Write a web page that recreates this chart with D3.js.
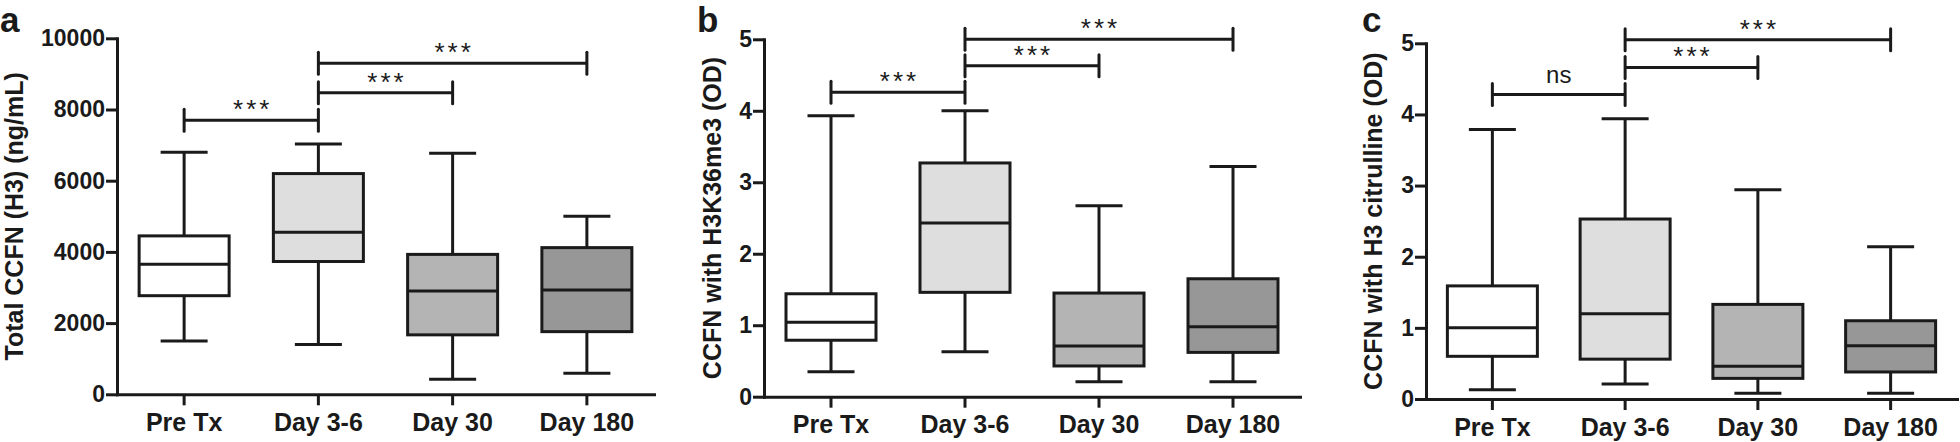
<!DOCTYPE html>
<html>
<head>
<meta charset="utf-8">
<script src="https://cdn.jsdelivr.net/npm/d3@7"></script>
<style>
  body { margin: 0; background: #fff; }
  text { font-family: "Liberation Sans", Arial, sans-serif; fill: #1a1a1a; }
</style>
</head>
<body>
<div id="chart"></div>
<script>
// Box plot data: [min, Q1, median, Q3, max] per group
var categories = ["Pre Tx", "Day 3-6", "Day 30", "Day 180"];

var totalH3 = [
  [1500, 2770, 3650, 4450, 6800],
  [1400, 3730, 4550, 6200, 7030],
  [420, 1670, 2900, 3930, 6770],
  [590, 1760, 2930, 4120, 5000]
];
var h3k36me3 = [
  [0.35, 0.79, 1.04, 1.44, 3.93],
  [0.63, 1.46, 2.43, 3.27, 4.00],
  [0.21, 0.43, 0.71, 1.45, 2.67],
  [0.21, 0.62, 0.98, 1.65, 3.22]
];
var h3cit = [
  [0.13, 0.60, 1.00, 1.59, 3.79],
  [0.21, 0.56, 1.20, 2.53, 3.94],
  [0.08, 0.29, 0.46, 1.33, 2.94],
  [0.08, 0.38, 0.75, 1.10, 2.14]
];

// Significance brackets: [from group, to group, height, label]
var bracketsA = [[0, 1, 7700, "***"], [1, 2, 8470, "***"], [1, 3, 9300, "***"]];
var bracketsB = [[0, 1, 4.26, "***"], [1, 2, 4.63, "***"], [1, 3, 5.0, "***"]];
var bracketsC = [[0, 1, 4.28, "ns"], [1, 2, 4.66, "***"], [1, 3, 5.05, "***"]];

var ticksA = [0, 2000, 4000, 6000, 8000, 10000];
var ticksOD = [0, 1, 2, 3, 4, 5];

// styling
var ink = "#1a1a1a";
var fills = ["#ffffff", "#dedede", "#b4b4b4", "#979797"];
var boxW = 90, capW = 47, lw = 3;

var svg = d3.select("#chart")
  .append("svg")
  .attr("width", 1960)
  .attr("height", 442);

// Panel layout (pixel positions of each plot area)
var panels = [
  { letter: "a", lx: 0, title: "Total CCFN (H3) (ng/mL)", tx: 23,
    x0: 117, x1: 654, yb: 394.3, yt: 38.3, max: 10000, ticks: ticksA, stats: totalH3, br: bracketsA },
  { letter: "b", lx: 697, title: "CCFN with H3K36me3 (OD)", tx: 721,
    x0: 764, x1: 1300, yb: 396.7, yt: 39.3, max: 5, ticks: ticksOD, stats: h3k36me3, br: bracketsB },
  { letter: "c", lx: 1362, title: "CCFN with H3 citrulline (OD)", tx: 1382,
    x0: 1426, x1: 1957, yb: 399, yt: 43.3, max: 5, ticks: ticksOD, stats: h3cit, br: bracketsC }
];

panels.forEach(function(p) {
  var g = svg.append("g");

  var x = d3.scaleBand().domain(categories).range([p.x0, p.x1]);
  var y = d3.scaleLinear().domain([0, p.max]).range([p.yb, p.yt]);
  var cx = function(i) { return x(categories[i]) + x.bandwidth() / 2; };

  // whiskers (drawn first so the box covers them)
  p.stats.forEach(function(s, i) {
    g.append("line")
      .attr("x1", cx(i)).attr("x2", cx(i))
      .attr("y1", y(s[0])).attr("y2", y(s[4]))
      .attr("stroke", ink).attr("stroke-width", lw);
    [s[0], s[4]].forEach(function(v) {
      g.append("line")
        .attr("x1", cx(i) - capW / 2).attr("x2", cx(i) + capW / 2)
        .attr("y1", y(v)).attr("y2", y(v))
        .attr("stroke", ink).attr("stroke-width", lw);
    });
  });

  // boxes
  g.selectAll("rect.box")
    .data(p.stats)
    .join("rect")
    .attr("class", "box")
    .attr("x", function(d, i) { return cx(i) - boxW / 2; })
    .attr("y", function(d) { return y(d[3]); })
    .attr("width", boxW)
    .attr("height", function(d) { return y(d[1]) - y(d[3]); })
    .attr("fill", function(d, i) { return fills[i]; })
    .attr("stroke", ink)
    .attr("stroke-width", lw);

  // medians
  g.selectAll("line.med")
    .data(p.stats)
    .join("line")
    .attr("class", "med")
    .attr("x1", function(d, i) { return cx(i) - boxW / 2; })
    .attr("x2", function(d, i) { return cx(i) + boxW / 2; })
    .attr("y1", function(d) { return y(d[2]); })
    .attr("y2", function(d) { return y(d[2]); })
    .attr("stroke", ink)
    .attr("stroke-width", lw);

  // significance brackets
  p.br.forEach(function(b) {
    var xa = cx(b[0]), xb = cx(b[1]), yy = y(b[2]);
    g.append("line").attr("x1", xa).attr("x2", xb).attr("y1", yy).attr("y2", yy)
      .attr("stroke", ink).attr("stroke-width", lw);
    [xa, xb].forEach(function(xx) {
      g.append("line").attr("x1", xx).attr("x2", xx).attr("y1", yy - 11).attr("y2", yy + 11)
        .attr("stroke", ink).attr("stroke-width", lw).attr("stroke-linecap", "round");
    });
    var t = g.append("text")
      .attr("x", (xa + xb) / 2)
      .attr("text-anchor", "middle")
      .text(b[3]);
    if (b[3] == "ns") {
      t.attr("y", yy - 12).style("font-size", "24px");
    } else {
      t.attr("y", yy - 2).style("font-size", "26px").style("letter-spacing", "3px")
        .attr("x", (xa + xb) / 2 + 1.5);
    }
  });

  // y axis
  var ya = g.append("g")
    .attr("transform", "translate(" + p.x0 + ",0)")
    .call(d3.axisLeft(y).tickValues(p.ticks).tickFormat(d3.format("d"))
      .tickSize(11).tickSizeOuter(0).tickPadding(1));
  // x axis
  var xa = g.append("g")
    .attr("transform", "translate(0," + p.yb + ")")
    .call(d3.axisBottom(x).tickSize(11).tickSizeOuter(0).tickPadding(8));

  [ya, xa].forEach(function(a) {
    a.selectAll("path, line").attr("stroke", ink).attr("stroke-width", lw);
    a.select("path").attr("stroke-linecap", "square");
    a.selectAll("text")
      .attr("fill", ink)
      .style("font-family", "'Liberation Sans', Arial, sans-serif")
      .style("font-weight", "bold");
  });
  ya.selectAll("text").style("font-size", "23px");
  xa.selectAll("text").style("font-size", "25px");

  // y axis title
  g.append("text")
    .attr("transform", "translate(" + p.tx + "," + (p.yb + p.yt) / 2 + ") rotate(-90)")
    .attr("text-anchor", "middle")
    .style("font-size", "25px")
    .style("font-weight", "bold")
    .text(p.title);

  // panel letter
  g.append("text")
    .attr("x", p.lx)
    .attr("y", 31.5)
    .style("font-size", "35px")
    .style("font-weight", "bold")
    .text(p.letter);
});
</script>
</body>
</html>
